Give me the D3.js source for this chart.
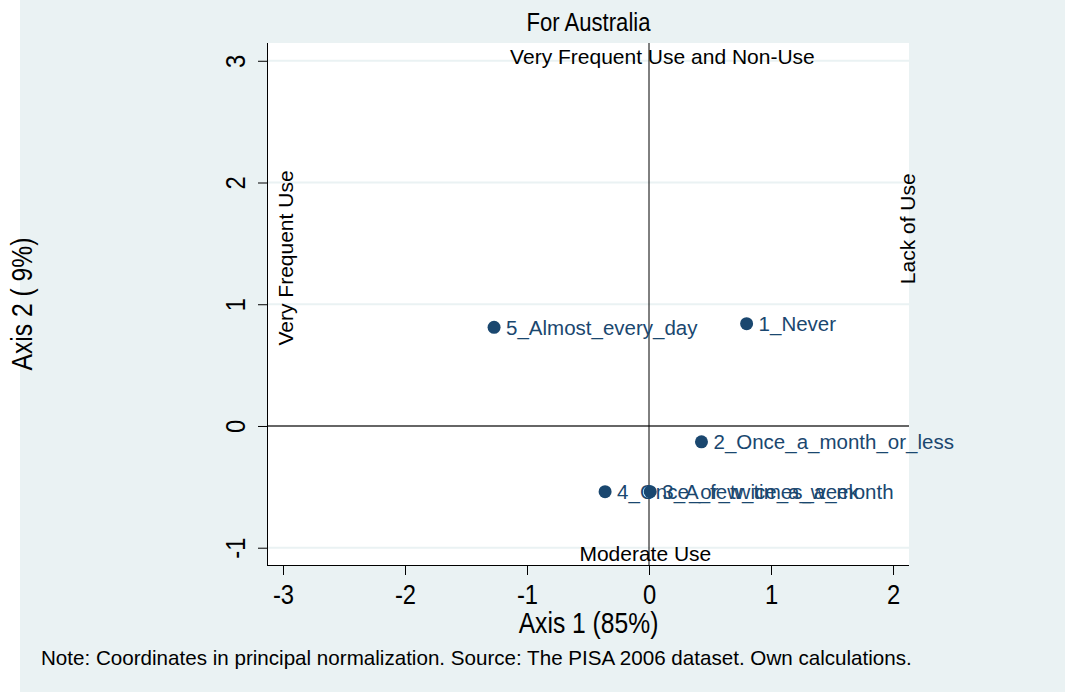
<!DOCTYPE html>
<html>
<head>
<meta charset="utf-8">
<script src="https://cdn.jsdelivr.net/npm/d3@7"></script>
<style>
	body { margin: 0; background: #ffffff; }
	svg { display: block; font-family: "Liberation Sans", Arial, sans-serif; }
</style>
</head>
<body>
<svg class="chart-container" width="1065" height="693"></svg>
<script>
// data
const categories = ['1_Never', '2_Once_a_month_or_less', '3_A_few_times_a_month', '4_Once_or_twice_a_week', '5_Almost_every_day'];
const axis1 = [0.80, 0.43, 0.01, -0.36, -1.27];
const axis2 = [0.84, -0.13, -0.54, -0.54, 0.81];
const xTicks = [-3, -2, -1, 0, 1, 2];
const yTicks = [-1, 0, 1, 2, 3];
const notes = [
	{ text: 'Very Frequent Use and Non-Use', x: 0.11, y: 2.97, rotate: false },
	{ text: 'Moderate Use', x: -0.03, y: -1.11, rotate: false },
	{ text: 'Very Frequent Use', x: -2.98, y: 1.38, rotate: true },
	{ text: 'Lack of Use', x: 2.12, y: 1.62, rotate: true }
];

// margin conventions
const plot = { left: 268, right: 909, top: 43, bottom: 565 };
const navy = '#1a476f';
const bg = '#eaf2f3';
const font = '"Liberation Sans", Arial, sans-serif';
// the big labels are drawn narrower than plain Arial
const narrow = 0.85;

const x = d3.scaleLinear().domain([-3.123, 2.131]).range([plot.left, plot.right]);
const y = d3.scaleLinear().domain([-1.142, 3.146]).range([plot.bottom, plot.top]);

const svg = d3.select('.chart-container');

// outer background, white strip on the left
svg.append('rect').attr('x', 20).attr('y', 0).attr('width', 1045).attr('height', 692).attr('fill', bg);
svg.append('rect')
	.attr('x', plot.left).attr('y', plot.top)
	.attr('width', plot.right - plot.left).attr('height', plot.bottom - plot.top)
	.attr('fill', 'white');

// grid lines
svg.append('g').selectAll('line')
	.data(yTicks.filter(d => d !== 0))
	.enter().append('line')
	.attr('x1', plot.left).attr('x2', plot.right)
	.attr('y1', d => y(d)).attr('y2', d => y(d))
	.attr('stroke', bg).attr('stroke-width', 2);

// reference lines
svg.append('line')
	.attr('x1', plot.left).attr('x2', plot.right)
	.attr('y1', y(0)).attr('y2', y(0))
	.attr('stroke', '#333').attr('stroke-width', 1.5);
svg.append('line')
	.attr('x1', x(0)).attr('x2', x(0))
	.attr('y1', plot.top).attr('y2', plot.bottom)
	.attr('stroke', '#000').attr('stroke-width', 1);

// x axis
const xAxis = svg.append('g')
	.attr('transform', 'translate(0,' + plot.bottom + ')')
	.call(d3.axisBottom(x).tickValues(xTicks).tickSizeOuter(0).tickSize(10).tickPadding(9).tickFormat(d => String(d)));
xAxis.select('.domain').attr('d', 'M' + (plot.left - 1) + ',0.5H' + plot.right).attr('stroke', '#000');
xAxis.selectAll('.tick line').attr('stroke', '#000');
xAxis.selectAll('text')
	.attr('font-size', 28).attr('fill', '#000').attr('font-family', font)
	.attr('transform', 'scale(' + narrow + ',1)');

// y axis
const yAxis = svg.append('g')
	.attr('transform', 'translate(' + plot.left + ',0)')
	.call(d3.axisLeft(y).tickValues(yTicks).tickSizeOuter(0).tickSize(10).tickFormat(d => String(d)));
yAxis.select('.domain').attr('d', 'M-0.5,' + plot.top + 'V' + plot.bottom).attr('stroke', '#000');
yAxis.selectAll('.tick line').attr('stroke', '#000');
yAxis.selectAll('text')
	.attr('font-size', 28).attr('fill', '#000').attr('font-family', font)
	.attr('x', null).attr('dy', null)
	.attr('text-anchor', 'middle')
	.attr('transform', 'translate(-23,0) rotate(-90) scale(' + narrow + ',1)');

// axis titles
svg.append('text')
	.attr('transform', 'translate(' + ((plot.left + plot.right) / 2) + ',633) scale(' + narrow + ',1)')
	.attr('text-anchor', 'middle').attr('font-size', 29)
	.text('Axis 1 (85%)');
svg.append('text')
	.attr('transform', 'translate(32,' + ((plot.top + plot.bottom) / 2) + ') rotate(-90) scale(' + narrow + ',1)')
	.attr('text-anchor', 'middle').attr('font-size', 29)
	.text('Axis 2 ( 9%)');

// title
svg.append('text')
	.attr('transform', 'translate(' + ((plot.left + plot.right) / 2) + ',31) scale(' + narrow + ',1)')
	.attr('text-anchor', 'middle').attr('font-size', 26)
	.text('For Australia');

// quadrant notes
svg.append('g').selectAll('text')
	.data(notes)
	.enter().append('text')
	.attr('font-size', 21).attr('text-anchor', 'middle')
	.attr('transform', d => 'translate(' + x(d.x) + ',' + y(d.y) + ')' + (d.rotate ? ' rotate(-90)' : ''))
	.attr('dy', d => d.rotate ? '0.35em' : 0)
	.text(d => d.text);

// points
const pts = svg.append('g').selectAll('g')
	.data(categories)
	.enter().append('g')
	.attr('transform', (d, i) => 'translate(' + x(axis1[i]) + ',' + y(axis2[i]) + ')');
pts.append('circle').attr('r', 6.5).attr('fill', navy);
pts.append('text')
	.attr('x', 12).attr('dy', '0.35em')
	.attr('font-size', 20.5).attr('fill', navy)
	.text(d => d);

// footnote
svg.append('text')
	.attr('x', 41).attr('y', 665)
	.attr('font-size', 20.6)
	.text('Note: Coordinates in principal normalization. Source: The PISA 2006 dataset. Own calculations.');
</script>
</body>
</html>
